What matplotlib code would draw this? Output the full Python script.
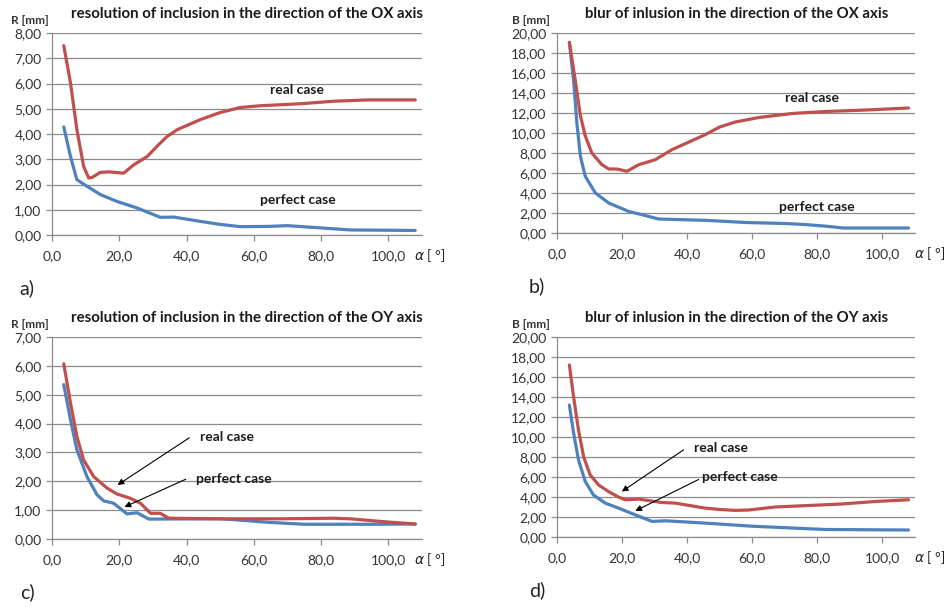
import matplotlib
matplotlib.use('Agg')
import matplotlib.pyplot as plt
from matplotlib.ticker import FuncFormatter

plt.rcParams['font.family'] = ['Lato', 'DejaVu Sans']

# panel a) resolution, OX axis
a_real_x = [3.5, 5.5, 7.4, 9.4, 10.9, 11.9, 14.4, 16.9, 21.3, 24.3, 28.3, 31.5, 34.2, 37.2, 44.1, 50.0, 56.0, 62.0, 74.0, 84.0, 94.0, 108.0]
a_real_y = [7.5, 6.02, 4.17, 2.72, 2.26, 2.28, 2.48, 2.5, 2.45, 2.78, 3.11, 3.55, 3.9, 4.17, 4.57, 4.85, 5.05, 5.12, 5.2, 5.3, 5.35, 5.35]
a_perf_x = [3.5, 5.5, 7.4, 10.4, 14.4, 19.3, 25.3, 32.2, 36.2, 44.1, 50.0, 56.0, 64.0, 70.0, 77.8, 88.7, 108.0]
a_perf_y = [4.28, 3.11, 2.19, 1.93, 1.6, 1.33, 1.07, 0.7, 0.71, 0.54, 0.42, 0.33, 0.34, 0.37, 0.3, 0.2, 0.18]

# panel b) blur, OX axis
b_real_x = [3.8, 5.6, 7.2, 8.7, 10.7, 13.8, 15.9, 18.4, 21.5, 25.1, 30.2, 35.3, 45.5, 50.0, 54.8, 62.0, 72.2, 82.5, 95.0, 108.0]
b_real_y = [19.06, 15.3, 11.7, 9.7, 8.0, 6.83, 6.4, 6.4, 6.17, 6.83, 7.33, 8.33, 9.83, 10.6, 11.1, 11.55, 11.95, 12.15, 12.3, 12.5]
b_perf_x = [3.8, 5.1, 6.1, 7.2, 8.7, 11.8, 15.9, 22.0, 26.1, 31.2, 45.5, 58.0, 70.0, 76.0, 82.0, 88.0, 108.0]
b_perf_y = [19.06, 15.3, 11.0, 7.66, 5.66, 4.0, 3.0, 2.16, 1.83, 1.4, 1.27, 1.05, 0.95, 0.85, 0.7, 0.5, 0.5]

# panel c) resolution, OY axis
c_real_x = [3.5, 5.5, 7.4, 9.4, 12.4, 16.4, 19.3, 23.3, 26.3, 29.3, 32.2, 34.7, 50.0, 68.0, 83.8, 88.7, 98.6, 108.0]
c_real_y = [6.07, 4.71, 3.55, 2.74, 2.16, 1.76, 1.56, 1.41, 1.24, 0.89, 0.89, 0.72, 0.7, 0.7, 0.72, 0.7, 0.6, 0.52]
c_perf_x = [3.5, 5.5, 7.4, 10.4, 13.4, 15.4, 18.3, 22.3, 25.3, 28.8, 50.0, 54.0, 64.0, 75.0, 95.0, 108.0]
c_perf_y = [5.35, 4.13, 3.09, 2.16, 1.53, 1.32, 1.24, 0.87, 0.91, 0.69, 0.7, 0.67, 0.58, 0.51, 0.51, 0.52]

# panel d) blur, OY axis
d_real_x = [3.8, 5.1, 6.6, 8.2, 10.2, 12.8, 15.8, 18.9, 21.0, 25.1, 32.2, 36.3, 45.5, 50.0, 54.8, 58.9, 67.0, 77.3, 87.5, 97.7, 108.0]
d_real_y = [17.2, 14.0, 10.7, 8.0, 6.2, 5.2, 4.55, 4.0, 3.72, 3.79, 3.45, 3.39, 2.89, 2.75, 2.66, 2.7, 3.0, 3.15, 3.3, 3.55, 3.72]
d_perf_x = [3.8, 5.1, 6.6, 8.7, 11.2, 14.8, 18.9, 24.0, 29.2, 33.3, 45.5, 59.9, 72.2, 82.5, 108.0]
d_perf_y = [13.2, 10.4, 7.7, 5.54, 4.2, 3.39, 2.89, 2.22, 1.56, 1.62, 1.39, 1.08, 0.9, 0.75, 0.7]

titles = ['resolution of inclusion in the direction of the OX axis',
          'blur of inlusion in the direction of the OX axis',
          'resolution of inclusion in the direction of the OY axis',
          'blur of inlusion in the direction of the OY axis']
ylabels = ['R [mm]', 'B [mm]', 'R [mm]', 'B [mm]']
panel_tags = ['a)', 'b)', 'c)', 'd)']
ymax = [8, 20, 7, 20]
ystep = [1, 2, 1, 2]

RED = '#C0504D'
BLUE = '#4F81BD'
GRID = '#8C8C8C'
W, H = 949, 607

fig = plt.figure(figsize=(9.49, 6.07), dpi=100)


def px(x, y):
    # pixel position (top-left origin) -> figure fraction
    return x / W, 1 - y / H


# axes boxes in pixels: left, top, right, bottom
boxes = [(52, 33, 422, 235), (557, 33, 915, 233),
         (52, 337, 422, 539), (557, 337, 915, 537)]
series = [(a_real_x, a_real_y, a_perf_x, a_perf_y),
          (b_real_x, b_real_y, b_perf_x, b_perf_y),
          (c_real_x, c_real_y, c_perf_x, c_perf_y),
          (d_real_x, d_real_y, d_perf_x, d_perf_y)]

axes = []
for i, (l, t, r, b) in enumerate(boxes):
    ax = fig.add_axes([l / W, 1 - b / H, (r - l) / W, (b - t) / H])
    rx, ry, pxs, pys = series[i]
    ax.plot(pxs, pys, color=BLUE, lw=2.3, solid_joinstyle='round', solid_capstyle='round')
    ax.plot(rx, ry, color=RED, lw=2.3, solid_joinstyle='round', solid_capstyle='round')
    ax.set_xlim(0, 110)
    ax.set_ylim(0, ymax[i])
    ax.set_xticks(range(0, 101, 20))
    ax.set_yticks([k * ystep[i] for k in range(int(ymax[i] / ystep[i]) + 1)])
    ax.xaxis.set_major_formatter(FuncFormatter(lambda v, p: f'{v:.1f}'.replace('.', ',')))
    ax.yaxis.set_major_formatter(FuncFormatter(lambda v, p: f'{v:.2f}'.replace('.', ',')))
    ax.grid(axis='y', color=GRID, lw=0.9)
    ax.set_axisbelow(True)
    for s in ['top', 'right']:
        ax.spines[s].set_visible(False)
    for s in ['left', 'bottom']:
        ax.spines[s].set_color(GRID)
        ax.spines[s].set_linewidth(0.9)
    ax.tick_params(colors=GRID, labelcolor='#333333', labelsize=10, length=4, width=0.9)
    ax.tick_params(axis='x', pad=7)
    axes.append(ax)

    fig.text(*px(l + 195 if i % 2 == 0 else l + 180, t - 19), titles[i], ha='center', va='center',
             fontsize=10.8, fontweight='bold', color='#1a1a1a')
    fig.text(*px(l - 22 if i % 2 == 0 else l - 26, t - 13), ylabels[i], ha='center', va='center',
             fontsize=8.5, fontweight='bold', color='#333333')
    fig.text(*px(r + 8 if i % 2 == 0 else r + 15, b + 21), r'$\alpha$ [ °]', ha='center', va='center',
             fontsize=10, color='#222222')

for i, (l, t, r, b) in enumerate(boxes):
    tag_x = 27 if i % 2 == 0 else 537
    fig.text(*px(tag_x, b + 53), panel_tags[i], ha='center', va='center', fontsize=14, color='#222222')

lab = dict(ha='center', va='center', fontsize=10, fontweight='bold', color='#1a1a1a')
arr = dict(arrowstyle='-|>', color='black', lw=0.8, mutation_scale=9)

axes[0].text(72.9, 5.75, 'real case', **lab)
axes[0].text(73.2, 1.4, 'perfect case', **lab)
axes[1].text(78.2, 13.5, 'real case', **lab)
axes[1].text(79.9, 2.6, 'perfect case', **lab)

axes[2].text(51.9, 3.54, 'real case', **lab)
axes[2].text(54.0, 2.08, 'perfect case', **lab)
axes[2].annotate('', xy=(18.8, 1.82), xytext=(41.5, 3.56), arrowprops=arr)
axes[2].annotate('', xy=(20.8, 1.07), xytext=(40.5, 2.11), arrowprops=arr)

axes[3].text(50.4, 8.87, 'real case', **lab)
axes[3].text(56.3, 5.98, 'perfect case', **lab)
axes[3].annotate('', xy=(19.2, 4.39), xytext=(39.6, 8.87), arrowprops=arr)
axes[3].annotate('', xy=(23.3, 2.49), xytext=(44.3, 5.88), arrowprops=arr)

fig.savefig('out.png', dpi=100)
